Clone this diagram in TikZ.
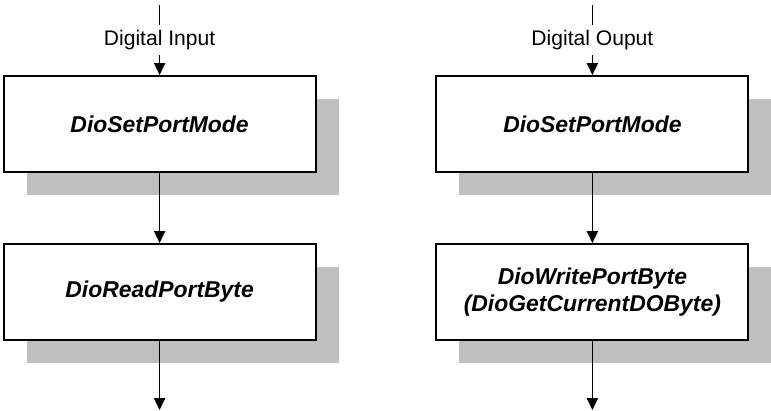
\documentclass[tikz,border=0pt]{standalone}
\usepackage{fontspec}
\setmainfont{Liberation Sans}
\usetikzlibrary{arrows.meta,shadows}

\begin{document}
\begin{tikzpicture}[>={Triangle[width=0.28cm,length=0.3cm]},box/.style={draw,line width=1.4pt,fill=white,align=center,font=\fontsize{16.3}{19}\selectfont\bfseries\itshape,minimum width=7.8cm,minimum height=2.4cm,inner sep=0pt,drop shadow={shadow xshift=0.575cm,shadow yshift=-0.575cm,fill=black!25,opacity=1}},lbl/.style={font=\fontsize{15}{18}\selectfont},arrow/.style={->,line width=1pt},line/.style={line width=1pt}]
\useasboundingbox (0,0) rectangle (19.275,-10.275);
% input side
\coordinate (intop) at (3.99,-0.12);
\node[lbl] (inlbl) at (3.99,-1.0) {Digital Input};
\node[box] (setin) at (3.99,-3.1) {DioSetPortMode};
\node[box] (read) at (3.99,-7.3) {DioReadPortByte};
\coordinate (inend) at (3.99,-10.25);
\draw[line] (intop)--(inlbl); \draw[arrow] (inlbl)--(setin); \draw[arrow] (setin)--(read); \draw[arrow] (read)--(inend);
% output side
\coordinate (outtop) at (14.81,-0.12);
\node[lbl] (outlbl) at (14.81,-1.0) {Digital Ouput};
\node[box] (setout) at (14.81,-3.1) {DioSetPortMode};
\node[box] (write) at (14.81,-7.3) {DioWritePortByte\\(DioGetCurrentDOByte)};
\coordinate (outend) at (14.81,-10.25);
\draw[line] (outtop)--(outlbl); \draw[arrow] (outlbl)--(setout); \draw[arrow] (setout)--(write); \draw[arrow] (write)--(outend);
\end{tikzpicture}
\end{document}
